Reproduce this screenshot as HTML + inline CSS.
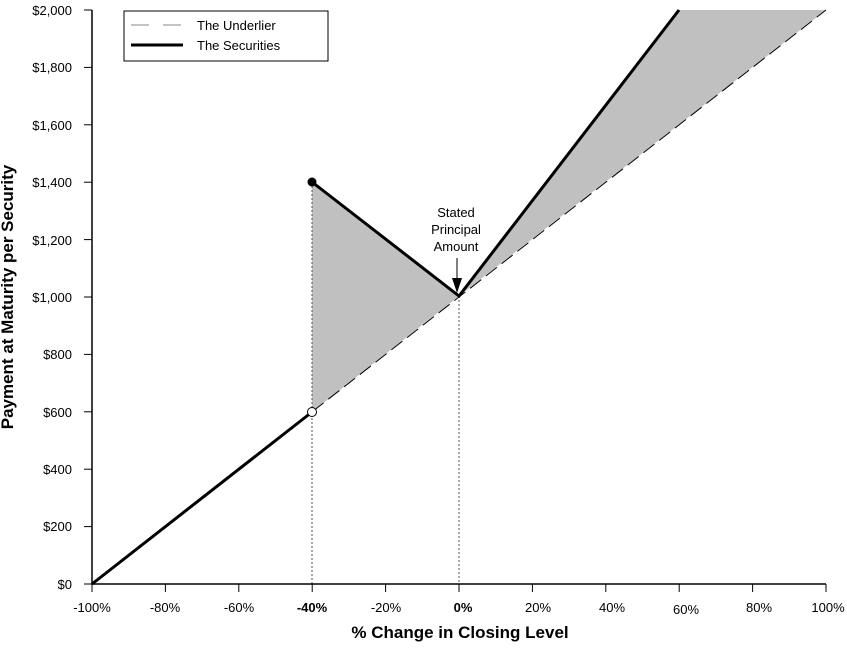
<!DOCTYPE html>
<html><head><meta charset="utf-8"><style>
body{margin:0;background:#fff;}
text{font-family:"Liberation Sans",Arial,sans-serif;font-size:13px;fill:#000;}
</style></head><body>
<svg width="847" height="644" xmlns="http://www.w3.org/2000/svg">
<polygon points="312,182 459,296 312,412" fill="#c0c0c0"/>
<polygon points="459,296 679,10 826,10" fill="#c0c0c0"/>
<line x1="92" y1="584" x2="826" y2="10" stroke="#000" stroke-width="1" stroke-dasharray="14,6"/>
<line x1="312" y1="182" x2="312" y2="584" stroke="#555" stroke-width="1" stroke-dasharray="2,2"/>
<line x1="459" y1="296" x2="459" y2="584" stroke="#555" stroke-width="1" stroke-dasharray="2,2"/>
<polyline points="92,584 312,412" fill="none" stroke="#000" stroke-width="3"/>
<polyline points="312,182 459,296 679,10" fill="none" stroke="#000" stroke-width="3"/>
<circle cx="312" cy="182" r="4.5" fill="#000"/>
<circle cx="312" cy="412" r="4.5" fill="#fff" stroke="#000" stroke-width="1"/>
<line x1="457" y1="258" x2="457" y2="282" stroke="#000" stroke-width="1"/>
<polygon points="452,278 462,278 457,293" fill="#000"/>
<text x="456" y="217" text-anchor="middle">Stated</text>
<text x="456" y="234" text-anchor="middle">Principal</text>
<text x="456" y="251" text-anchor="middle">Amount</text>
<line x1="92" y1="10" x2="92" y2="584" stroke="#000" stroke-width="1.5"/>
<line x1="92" y1="584" x2="826" y2="584" stroke="#000" stroke-width="1.5"/>
<g stroke="#000" stroke-width="1">
<line x1="84" y1="10" x2="92" y2="10"/><line x1="84" y1="67.4" x2="92" y2="67.4"/><line x1="84" y1="124.8" x2="92" y2="124.8"/><line x1="84" y1="182.2" x2="92" y2="182.2"/><line x1="84" y1="239.6" x2="92" y2="239.6"/><line x1="84" y1="297" x2="92" y2="297"/><line x1="84" y1="354.4" x2="92" y2="354.4"/><line x1="84" y1="411.8" x2="92" y2="411.8"/><line x1="84" y1="469.2" x2="92" y2="469.2"/><line x1="84" y1="526.6" x2="92" y2="526.6"/><line x1="84" y1="584" x2="92" y2="584"/>
<line x1="92" y1="584" x2="92" y2="592"/><line x1="165.4" y1="584" x2="165.4" y2="592"/><line x1="238.8" y1="584" x2="238.8" y2="592"/><line x1="312.2" y1="584" x2="312.2" y2="592"/><line x1="385.6" y1="584" x2="385.6" y2="592"/><line x1="459" y1="584" x2="459" y2="592"/><line x1="532.4" y1="584" x2="532.4" y2="592"/><line x1="605.8" y1="584" x2="605.8" y2="592"/><line x1="679.2" y1="584" x2="679.2" y2="592"/><line x1="752.6" y1="584" x2="752.6" y2="592"/><line x1="826" y1="584" x2="826" y2="592"/>
</g>
<g text-anchor="end">
<text x="72" y="15">$2,000</text><text x="72" y="72">$1,800</text><text x="72" y="130">$1,600</text><text x="72" y="187">$1,400</text><text x="72" y="245">$1,200</text><text x="72" y="302">$1,000</text><text x="72" y="359">$800</text><text x="72" y="417">$600</text><text x="72" y="474">$400</text><text x="72" y="531">$200</text><text x="72" y="589">$0</text>
</g>
<g text-anchor="middle">
<text x="92" y="612">-100%</text><text x="165" y="612">-80%</text><text x="239" y="612">-60%</text><text x="312" y="612" style="font-weight:bold">-40%</text><text x="386" y="612">-20%</text><text x="463" y="612" style="font-weight:bold">0%</text><text x="538" y="612">20%</text><text x="612" y="612">40%</text><text x="686" y="614">60%</text><text x="759" y="612">80%</text><text x="828" y="612">100%</text>
</g>
<text x="460" y="638" text-anchor="middle" style="font-weight:bold;font-size:17px">% Change in Closing Level</text>
<text transform="translate(13,297) rotate(-90)" text-anchor="middle" style="font-weight:bold;font-size:17px">Payment at Maturity per Security</text>
<rect x="124" y="11" width="204" height="50" fill="#fff" stroke="#000" stroke-width="1"/>
<line x1="131" y1="25" x2="183" y2="25" stroke="#888" stroke-width="1" stroke-dasharray="18,14"/>
<line x1="131" y1="45" x2="183" y2="45" stroke="#000" stroke-width="3"/>
<text x="197" y="30">The Underlier</text>
<text x="197" y="50">The Securities</text>
</svg>
</body></html>
